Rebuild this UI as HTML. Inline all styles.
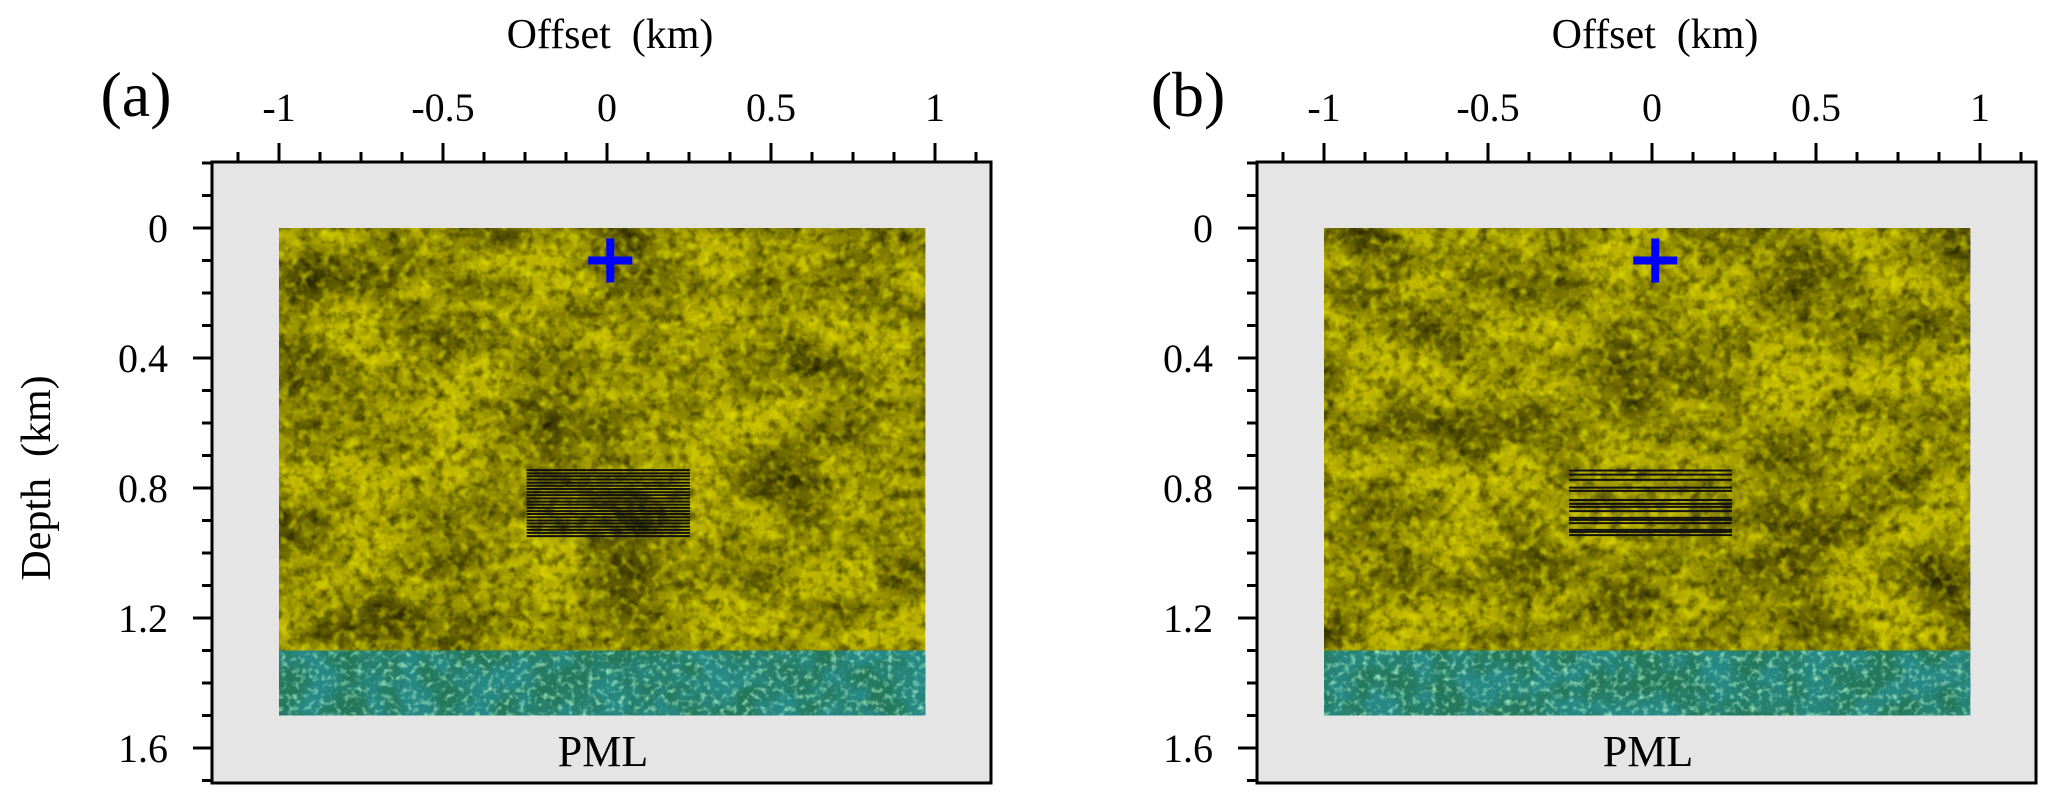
<!DOCTYPE html>
<html><head><meta charset="utf-8"><style>
html,body{margin:0;padding:0;background:#fff;}
svg{display:block;font-family:"Liberation Serif",serif;}
</style></head><body>
<svg id="fig" width="2067" height="805" viewBox="0 0 2067 805" xmlns="http://www.w3.org/2000/svg">
<defs>
<filter id="yelNoise" x="0" y="0" width="100%" height="100%">
<feTurbulence type="fractalNoise" baseFrequency="0.012 0.02" numOctaves="3" seed="3"/>
<feColorMatrix type="matrix" values="0 0 0 0 0  0 0 0 0 0  0 0 0 0 0  -1.3 0 0 0 0.85"/>
</filter>
<filter id="yelFine" x="0" y="0" width="100%" height="100%">
<feTurbulence type="fractalNoise" baseFrequency="0.09" numOctaves="3" seed="8"/>
<feColorMatrix type="matrix" values="0 0 0 0 0  0 0 0 0 0  0 0 0 0 0  -1.2 0 0 0 0.7"/>
</filter>
<filter id="yelHi" x="0" y="0" width="100%" height="100%">
<feTurbulence type="fractalNoise" baseFrequency="0.1" numOctaves="2" seed="21"/>
<feColorMatrix type="matrix" values="0 0 0 0 0.85  0 0 0 0 0.83  0 0 0 0 0  1.6 0 0 0 -0.75"/>
</filter>
<filter id="grnDark" x="0" y="0" width="100%" height="100%">
<feTurbulence type="fractalNoise" baseFrequency="0.03" numOctaves="4" seed="5"/>
<feColorMatrix type="matrix" values="0 0 0 0 0.02  0 0 0 0 0.25  0 0 0 0 0.24  -3 0 0 0 2.0"/>
</filter>
<filter id="grnLight" x="0" y="0" width="100%" height="100%">
<feTurbulence type="fractalNoise" baseFrequency="0.16" numOctaves="2" seed="11"/>
<feColorMatrix type="matrix" values="0 0 0 0 0.4  0 0 0 0 0.88  0 0 0 0 0.55  2.2 0 0 0 -1.1"/>
</filter>
</defs>
<g id="root"></g>
</svg>
<script>
// Axis tick values (km)
const xMajorTicks = [-1, -0.5, 0, 0.5, 1];
const xMajorLabels = ["-1", "-0.5", "0", "0.5", "1"];
const xMinorTicks = [-1.125, -0.875, -0.75, -0.625, -0.375, -0.25, -0.125, 0.125, 0.25, 0.375, 0.625, 0.75, 0.875, 1.125];
const yMajorTicks = [0, 0.4, 0.8, 1.2, 1.6];
const yMajorLabels = ["0", "0.4", "0.8", "1.2", "1.6"];
const yMinorTicks = [-0.2, -0.1, 0.1, 0.2, 0.3, 0.5, 0.6, 0.7, 0.9, 1.0, 1.1, 1.3, 1.4, 1.5, 1.7];
// Model extents (km)
const modelX = [-1, 0.97];
const yellowDepth = [0, 1.3];
const pmlDepth = [1.3, 1.5];
const sourcePos = [0.01, 0.1];
// Receiver line block x-extent and depths
const linesXa = [-0.245, 0.253];
const linesDepthA = [0.745, 0.755, 0.764, 0.774, 0.784, 0.793, 0.803, 0.813, 0.822, 0.832, 0.842, 0.851, 0.861, 0.871, 0.880, 0.890, 0.900, 0.909, 0.919, 0.929, 0.938, 0.948];
const linesXb = [-0.253, 0.244];
const linesDepthB = [0.746, 0.759, 0.775, 0.799, 0.809, 0.837, 0.849, 0.858, 0.871, 0.892, 0.898, 0.908, 0.929, 0.935, 0.945];

const NS = "http://www.w3.org/2000/svg";
const root = document.getElementById("root");
function mk(tag, attrs, parent) {
  const e = document.createElementNS(NS, tag);
  for (const k in attrs) e.setAttribute(k, attrs[k]);
  (parent || root).appendChild(e);
  return e;
}
const KX = 328, KY = 325, Y0 = 228;
const yS = d => Y0 + d * KY;

function panel(x0, label, labelX, linesX, linesDepth, id) {
  const xS = v => x0 + v * KX;
  const g = mk("g", {});
  
  
  const fl = x0 - 395, fr = x0 + 384, ft = 162, fb = 783;
  const bg = mk("rect", {x: fl, y: ft, width: fr - fl, height: fb - ft, fill: "#e5e5e5"}, g);
  
  
  const yx = xS(modelX[0]), yw = xS(modelX[1]) - xS(modelX[0]);
  const yy = yS(yellowDepth[0]), yh = yS(yellowDepth[1]) - yS(yellowDepth[0]);
  const ylay = mk("g", {}, g);
  
  
  mk("rect", {x: yx, y: yy, width: yw, height: yh, fill: "#bcb400"}, ylay);
  mk("rect", {x: yx, y: yy, width: yw, height: yh, filter: "url(#yelNoise)"}, ylay);
  mk("rect", {x: yx, y: yy, width: yw, height: yh, filter: "url(#yelFine)"}, ylay);
  mk("rect", {x: yx, y: yy, width: yw, height: yh, filter: "url(#yelHi)"}, ylay);
  const py = yS(pmlDepth[0]), ph = yS(pmlDepth[1]) - yS(pmlDepth[0]);
  const pl = mk("g", {}, g);
  
  
  mk("rect", {x: yx, y: py, width: yw, height: ph, fill: "#24795c"}, pl);
  mk("rect", {x: yx, y: py, width: yw, height: ph, filter: "url(#grnDark)"}, pl);
  mk("rect", {x: yx, y: py, width: yw, height: ph, filter: "url(#grnLight)"}, pl);
  const lg = mk("g", {stroke: "#111", "stroke-width": 2}, g);
  
  
  for (const d of linesDepth) {
    const l = mk("line", {x1: xS(linesX[0]), x2: xS(linesX[1]), y1: yS(d), y2: yS(d)}, lg);
    
    
  }
  const cx = xS(sourcePos[0]), cy = yS(sourcePos[1]);
  const sg = mk("g", {fill: "#0000ff"}, g);
  
  
  mk("rect", {x: cx - 22, y: cy - 4, width: 44, height: 8}, sg);
  mk("rect", {x: cx - 4, y: cy - 22, width: 8, height: 44}, sg);
  const fr2 = mk("rect", {x: fl, y: ft, width: fr - fl, height: fb - ft, fill: "none", stroke: "#000", "stroke-width": 3}, g);
  
  
  const tg = mk("g", {stroke: "#000", "stroke-width": 3}, g);
  
  
  xMajorTicks.forEach(v => mk("line", {x1: xS(v), x2: xS(v), y1: ft, y2: ft - 19}, tg));
  xMinorTicks.forEach(v => mk("line", {x1: xS(v), x2: xS(v), y1: ft, y2: ft - 10}, tg));
  xMajorTicks.forEach((v, i) => {
    const t = mk("text", {x: xS(v), y: 121, "font-size": 40, "text-anchor": "middle"}, g);
    t.textContent = xMajorLabels[i];
    
    
  });
  const lt = mk("g", {stroke: "#000", "stroke-width": 3}, g);
  
  
  yMajorTicks.forEach(v => mk("line", {x1: fl, x2: fl - 19, y1: yS(v), y2: yS(v)}, lt));
  yMinorTicks.forEach(v => mk("line", {x1: fl, x2: fl - 10, y1: yS(v), y2: yS(v)}, lt));
  yMajorTicks.forEach((v, i) => {
    const t = mk("text", {x: fl - 44, y: yS(v) + 14, "font-size": 40, "text-anchor": "end"}, g);
    t.textContent = yMajorLabels[i];
    
    
  });
  const xt = mk("text", {x: x0 + 3, y: 48, "font-size": 42, "text-anchor": "middle"}, g);
  xt.textContent = "Offset\u00a0\u00a0(km)";
  
  
  const pm = mk("text", {x: x0 - 4, y: 766, "font-size": 44, "text-anchor": "middle"}, g);
  pm.textContent = "PML";
  
  
  const pl2 = mk("text", {x: labelX, y: 116, "font-size": 64, "text-anchor": "middle"}, g);
  pl2.textContent = label;
  
  
}
panel(607, "(a)", 136, linesXa, linesDepthA, "a");
panel(1652, "(b)", 1188, linesXb, linesDepthB, "b");
const yt = mk("text", {x: 0, y: 0, "font-size": 42, "text-anchor": "middle", transform: "translate(50,478) rotate(-90)"});
yt.textContent = "Depth\u00a0\u00a0(km)";


</script>
</body></html>
